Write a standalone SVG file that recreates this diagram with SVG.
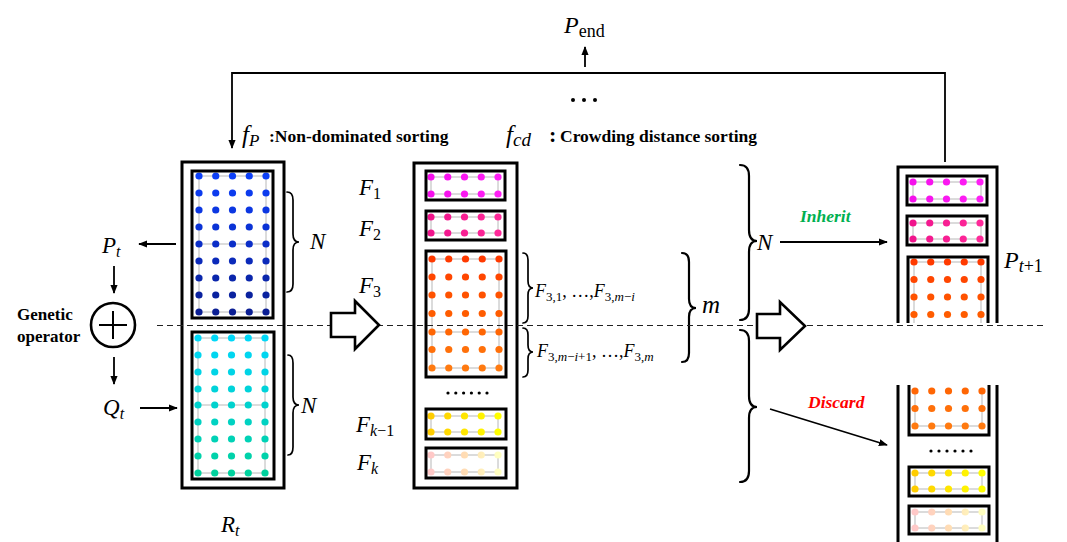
<svg xmlns="http://www.w3.org/2000/svg" width="1067" height="542" viewBox="0 0 1067 542">
<style>
.box{fill:none;stroke:#000;stroke-width:3}
.grid{fill:none;stroke:#d0d0d0;stroke-width:1.5}
.ln{fill:none;stroke:#000;stroke-width:1.8}
.brace{fill:none;stroke:#000;stroke-width:1.7;stroke-linecap:round}
.hollow{fill:#fff;stroke:#000;stroke-width:2.6;stroke-linejoin:miter}
.dash{fill:none;stroke:#222;stroke-width:1.2;stroke-dasharray:6 4}
.m{font-family:"Liberation Serif",serif;font-style:italic;font-size:23px;fill:#000}
.s{font-size:16px}
.up{font-style:normal}
.b{font-family:"Liberation Serif",serif;font-weight:bold;font-size:17.5px;fill:#000}
.bi{font-family:"Liberation Serif",serif;font-weight:bold;font-style:italic;font-size:17.5px}
</style>
<defs>
  <marker id="arr" viewBox="0 0 10 10" refX="9" refY="5" markerWidth="9" markerHeight="9" markerUnits="userSpaceOnUse" orient="auto">
    <path d="M0,1 L10,5 L0,9 z" fill="#000"/>
  </marker>
  <!-- one row of five individuals -->
  <g id="row5">
    <circle cx="0" cy="0" r="3.6"/><circle cx="16.75" cy="0" r="3.6"/><circle cx="33.5" cy="0" r="3.6"/><circle cx="50.25" cy="0" r="3.6"/><circle cx="67" cy="0" r="3.6"/>
  </g>
  <linearGradient id="gMag" gradientUnits="userSpaceOnUse" x1="0" y1="0" x2="67" y2="0"><stop offset="0" stop-color="#f510ec"/><stop offset="1" stop-color="#ff20f5"/></linearGradient>
  <linearGradient id="gPink" gradientUnits="userSpaceOnUse" x1="0" y1="0" x2="67" y2="0"><stop offset="0" stop-color="#f0148c"/><stop offset="1" stop-color="#ff2a9a"/></linearGradient>
  <linearGradient id="gYel" gradientUnits="userSpaceOnUse" x1="0" y1="0" x2="67" y2="0"><stop offset="0" stop-color="#ffcc00"/><stop offset="1" stop-color="#ffff00"/></linearGradient>
  <linearGradient id="gFade" gradientUnits="userSpaceOnUse" x1="0" y1="0" x2="67" y2="0"><stop offset="0" stop-color="#ffc8c8"/><stop offset="0.5" stop-color="#ffdcb4"/><stop offset="1" stop-color="#ffffc0"/></linearGradient>
</defs>
<rect width="1067" height="542" fill="#fff"/>

<!-- R_t : parent population P_t on top, offspring Q_t below -->
<g id="node-Rt">
  <rect class="box" x="182" y="162" width="102" height="326"/>
  <rect class="grid" x="199" y="176" width="67" height="136"/>
  <line class="grid" x1="199" y1="244" x2="266" y2="244"/>
  <use href="#row5" x="199" y="176" fill="#0d40f8"/>
  <use href="#row5" x="199" y="193" fill="#0c3bee"/>
  <use href="#row5" x="199" y="210" fill="#0c37e2"/>
  <use href="#row5" x="199" y="227" fill="#0b33d6"/>
  <use href="#row5" x="199" y="244" fill="#0b2ec8"/>
  <use href="#row5" x="199" y="261" fill="#0b2aba"/>
  <use href="#row5" x="199" y="278" fill="#0a26ac"/>
  <use href="#row5" x="199" y="295" fill="#0a229f"/>
  <use href="#row5" x="199" y="312" fill="#0a1e94"/>
  <rect class="box" x="192" y="171" width="81" height="147"/>
  <rect class="grid" x="198" y="338" width="67" height="135"/>
  <line class="grid" x1="198" y1="405" x2="265" y2="405"/>
  <use href="#row5" x="198" y="338" fill="#00d8f8"/>
  <use href="#row5" x="198" y="355" fill="#00d6f0"/>
  <use href="#row5" x="198" y="372" fill="#00d4e6"/>
  <use href="#row5" x="198" y="389" fill="#00d3da"/>
  <use href="#row5" x="198" y="405" fill="#00d2ce"/>
  <use href="#row5" x="198" y="422" fill="#00d2c2"/>
  <use href="#row5" x="198" y="439" fill="#00d2b6"/>
  <use href="#row5" x="198" y="456" fill="#00d2aa"/>
  <use href="#row5" x="198" y="473" fill="#00d29e"/>
  <rect class="box" x="192" y="332" width="82" height="147"/>
  <text class="m" x="221" y="532">R<tspan class="s" dy="4">t</tspan></text>
</g>

<g id="node-genetic">
  <circle cx="113" cy="325" r="22" fill="none" stroke="#000" stroke-width="2.6"/>
  <line x1="99" y1="325" x2="127" y2="325" stroke="#000" stroke-width="2"/>
  <line x1="113" y1="311" x2="113" y2="339" stroke="#000" stroke-width="2"/>
  <text class="b" x="17" y="320" style="font-size:17px">Genetic</text>
  <text class="b" x="17" y="342" style="font-size:17px">operator</text>
</g>

<g id="label-Pt"><text class="m" x="102" y="253">P<tspan class="s" dy="4">t</tspan></text></g>
<g id="label-Qt"><text class="m" x="103" y="415">Q<tspan class="s" dy="4">t</tspan></text></g>

<!-- sorted fronts F_1 ... F_k -->
<g id="node-fronts">
  <rect class="box" x="414" y="163" width="103" height="325"/>
  <rect class="grid" x="431" y="177" width="67" height="17"/>
  <use href="#row5" x="431" y="177" fill="url(#gMag)"/>
  <use href="#row5" x="431" y="194" fill="url(#gMag)"/>
  <rect class="box" x="426" y="171" width="79" height="29"/>
  <rect class="grid" x="431" y="217" width="67" height="16"/>
  <use href="#row5" x="431" y="217" fill="url(#gPink)"/>
  <use href="#row5" x="431" y="233" fill="url(#gPink)"/>
  <rect class="box" x="426" y="211" width="79" height="29"/>
  <rect class="grid" x="432" y="259" width="67" height="109"/>
  <line class="grid" x1="432" y1="332" x2="499" y2="332"/>
  <use href="#row5" x="432" y="259" fill="#ff3a00"/>
  <use href="#row5" x="432" y="277" fill="#ff4600"/>
  <use href="#row5" x="432" y="295" fill="#ff5200"/>
  <use href="#row5" x="432" y="313.5" fill="#ff5c00"/>
  <use href="#row5" x="432" y="332" fill="#ff6604"/>
  <use href="#row5" x="432" y="349.5" fill="#ff700a"/>
  <use href="#row5" x="432" y="368" fill="#ff7a10"/>
  <rect class="box" x="426" y="251" width="80" height="126"/>
  <g fill="#000">
    <circle cx="448" cy="393" r="1.6"/><circle cx="455.8" cy="393" r="1.6"/><circle cx="463.6" cy="393" r="1.6"/><circle cx="471.4" cy="393" r="1.6"/><circle cx="479.2" cy="393" r="1.6"/><circle cx="487" cy="393" r="1.6"/>
  </g>
  <rect class="grid" x="431" y="416" width="67" height="16"/>
  <use href="#row5" x="431" y="416" fill="url(#gYel)"/>
  <use href="#row5" x="431" y="432" fill="url(#gYel)"/>
  <rect class="box" x="426" y="409" width="80" height="30"/>
  <rect class="grid" x="431" y="455" width="67" height="17"/>
  <use href="#row5" x="431" y="455" fill="url(#gFade)"/>
  <use href="#row5" x="431" y="472" fill="url(#gFade)"/>
  <rect class="box" x="426" y="448" width="80" height="30"/>
  <text class="m" x="359" y="195">F<tspan class="s up" dy="4">1</tspan></text>
  <text class="m" x="359" y="236">F<tspan class="s up" dy="4">2</tspan></text>
  <text class="m" x="359" y="293">F<tspan class="s up" dy="4">3</tspan></text>
  <text class="m" x="356" y="432">F<tspan class="s" dy="4">k<tspan class="up">−1</tspan></tspan></text>
  <text class="m" x="357" y="470">F<tspan class="s" dy="4">k</tspan></text>
</g>

<!-- next population P_{t+1}, upper part -->
<g id="node-next">
  <path class="box" d="M898,323 V167 H997 V323"/>
  <rect class="grid" x="913" y="182" width="68" height="17"/>
  <use href="#row5" x="913" y="182" fill="url(#gMag)"/>
  <use href="#row5" x="913" y="199" fill="url(#gMag)"/>
  <rect class="box" x="907" y="176" width="80" height="29"/>
  <rect class="grid" x="913" y="223" width="68" height="16"/>
  <use href="#row5" x="913" y="223" fill="url(#gPink)"/>
  <use href="#row5" x="913" y="239" fill="url(#gPink)"/>
  <rect class="box" x="907" y="216" width="80" height="29"/>
  <path class="grid" d="M914,323 V262 H981 V323"/>
  <use href="#row5" x="914" y="262" fill="#ff3a00"/>
  <use href="#row5" x="914" y="279.5" fill="#ff4600"/>
  <use href="#row5" x="914" y="297" fill="#ff5200"/>
  <use href="#row5" x="914" y="314.5" fill="#ff5c00"/>
  <path class="box" d="M908,323 V257 H988 V323"/>
  <text class="m" x="1004" y="268" style="font-size:24px">P<tspan style="font-size:18px" dy="4">t<tspan class="up">+1</tspan></tspan></text>
</g>

<!-- discarded part, lower -->
<g id="node-discard">
  <path class="box" d="M898,385 V542 M997,385 V542"/>
  <path class="grid" d="M915,391 V426 H982 V391"/>
  <use href="#row5" x="915" y="391" fill="#ff6604"/>
  <use href="#row5" x="915" y="408.5" fill="#ff700a"/>
  <use href="#row5" x="915" y="426" fill="#ff7a10"/>
  <path class="box" d="M909,385 V435 H989 V385"/>
  <g fill="#000">
    <circle cx="931" cy="451" r="1.6"/><circle cx="939" cy="451" r="1.6"/><circle cx="947" cy="451" r="1.6"/><circle cx="955" cy="451" r="1.6"/><circle cx="963" cy="451" r="1.6"/><circle cx="971" cy="451" r="1.6"/>
  </g>
  <rect class="grid" x="915" y="473" width="67" height="16"/>
  <use href="#row5" x="915" y="473" fill="url(#gYel)"/>
  <use href="#row5" x="915" y="489" fill="url(#gYel)"/>
  <rect class="box" x="909" y="467" width="80" height="29"/>
  <rect class="grid" x="915" y="512" width="67" height="16"/>
  <use href="#row5" x="915" y="512" fill="url(#gFade)"/>
  <use href="#row5" x="915" y="528" fill="url(#gFade)"/>
  <rect class="box" x="909" y="506" width="80" height="28"/>
</g>

<!-- braces and their labels -->
<g id="braces">
  <path class="brace" d="M287,192 Q293,192 293,200 L293,234 Q293,242 299,242 Q293,242 293,250 L293,284 Q293,292 287,292"/>
  <text class="m" x="310" y="249">N</text>
  <path class="brace" d="M288,355 Q293,355 293,363 L293,397 Q293,405 299,405 Q293,405 293,413 L293,447 Q293,455 288,455"/>
  <text class="m" x="301" y="413">N</text>
  <path class="brace" d="M523,253 Q528,253 528,260 L528,281 Q528,288 533,288 Q528,288 528,295 L528,316 Q528,323 523,323"/>
  <path class="brace" d="M523,328 Q528,328 528,335 L528,345 Q528,352 533,352 Q528,352 528,359 L528,370 Q528,377 523,377"/>
  <text class="m" x="535" y="297" style="font-size:18px">F<tspan class="up" style="font-size:13px" dy="4">3,1</tspan><tspan class="up" dy="-4">, …,</tspan>F<tspan style="font-size:13px" dy="4"><tspan class="up">3,</tspan>m<tspan class="up">−</tspan>i</tspan></text>
  <text class="m" x="537" y="357" style="font-size:18px">F<tspan style="font-size:13px" dy="4"><tspan class="up">3,</tspan>m<tspan class="up">−</tspan>i<tspan class="up">+1</tspan></tspan><tspan class="up" dy="-4">, …,</tspan>F<tspan style="font-size:13px" dy="4"><tspan class="up">3,</tspan>m</tspan></text>
  <path class="brace" d="M682,253 Q689,253 689,262 L689,299 Q689,308 696,308 Q689,308 689,317 L689,353 Q689,362 682,362" style="stroke-width:2.2"/>
  <text class="m" x="702" y="313" style="font-size:25px">m</text>
  <path class="brace" d="M740,165 Q749,165 749,176 L749,230 Q749,241 757,241 Q749,241 749,252 L749,309 Q749,320 740,320" style="stroke-width:2.2"/>
  <text class="m" x="757" y="250" style="font-size:23px">N</text>
  <path class="brace" d="M740,330 Q749,330 749,341 L749,396 Q749,407 757,407 Q749,407 749,418 L749,471 Q749,482 740,482" style="stroke-width:2.2"/>
</g>

<line class="dash" x1="157" y1="325.5" x2="1045" y2="325.5"/>

<!-- hollow block arrows -->
<g id="step-arrows">
  <path class="hollow" d="M331,313 H355 V301 L379,325 L355,349 V337 H331 Z"/>
  <path class="hollow" d="M757,314 H780 V302 L805,326 L780,350 V338 H757 Z"/>
</g>

<!-- connectors -->
<g id="connectors">
  <line class="ln" x1="176" y1="244" x2="139" y2="244" marker-end="url(#arr)"/>
  <line class="ln" x1="140" y1="408" x2="177" y2="408" marker-end="url(#arr)"/>
  <line class="ln" x1="114" y1="266" x2="114" y2="293" marker-end="url(#arr)"/>
  <line class="ln" x1="114" y1="357" x2="114" y2="384" marker-end="url(#arr)"/>
  <path class="ln" d="M945,162 V73 H232 V148" marker-end="url(#arr)"/>
  <line class="ln" x1="585" y1="67" x2="585" y2="47" marker-end="url(#arr)"/>
  <line class="ln" x1="780" y1="242" x2="887" y2="242" marker-end="url(#arr)"/>
  <line class="ln" x1="770" y1="409" x2="887" y2="445" marker-end="url(#arr)"/>
</g>

<!-- titles and annotations -->
<g id="labels">
  <text class="m" x="564" y="33" style="font-size:24px">P<tspan class="up" dy="4" style="font-size:18px">end</tspan></text>
  <g fill="#000"><circle cx="573" cy="100" r="2"/><circle cx="584" cy="100" r="2"/><circle cx="595" cy="100" r="2"/></g>
  <text class="m" x="242" y="143" style="font-size:25px">f<tspan dy="3" style="font-size:17px">P</tspan></text>
  <text class="b" x="269" y="142">:Non-dominated sorting</text>
  <text class="m" x="506" y="143" style="font-size:25px">f<tspan dy="3" style="font-size:19px">cd</tspan></text>
  <text class="b" x="549" y="142" style="font-size:22px">:</text>
  <text class="b" x="560" y="142">Crowding distance sorting</text>
  <text class="bi" x="800" y="222" fill="#00b050">Inherit</text>
  <text class="bi" x="808" y="408" fill="#ff0000">Discard</text>
</g>
</svg>
